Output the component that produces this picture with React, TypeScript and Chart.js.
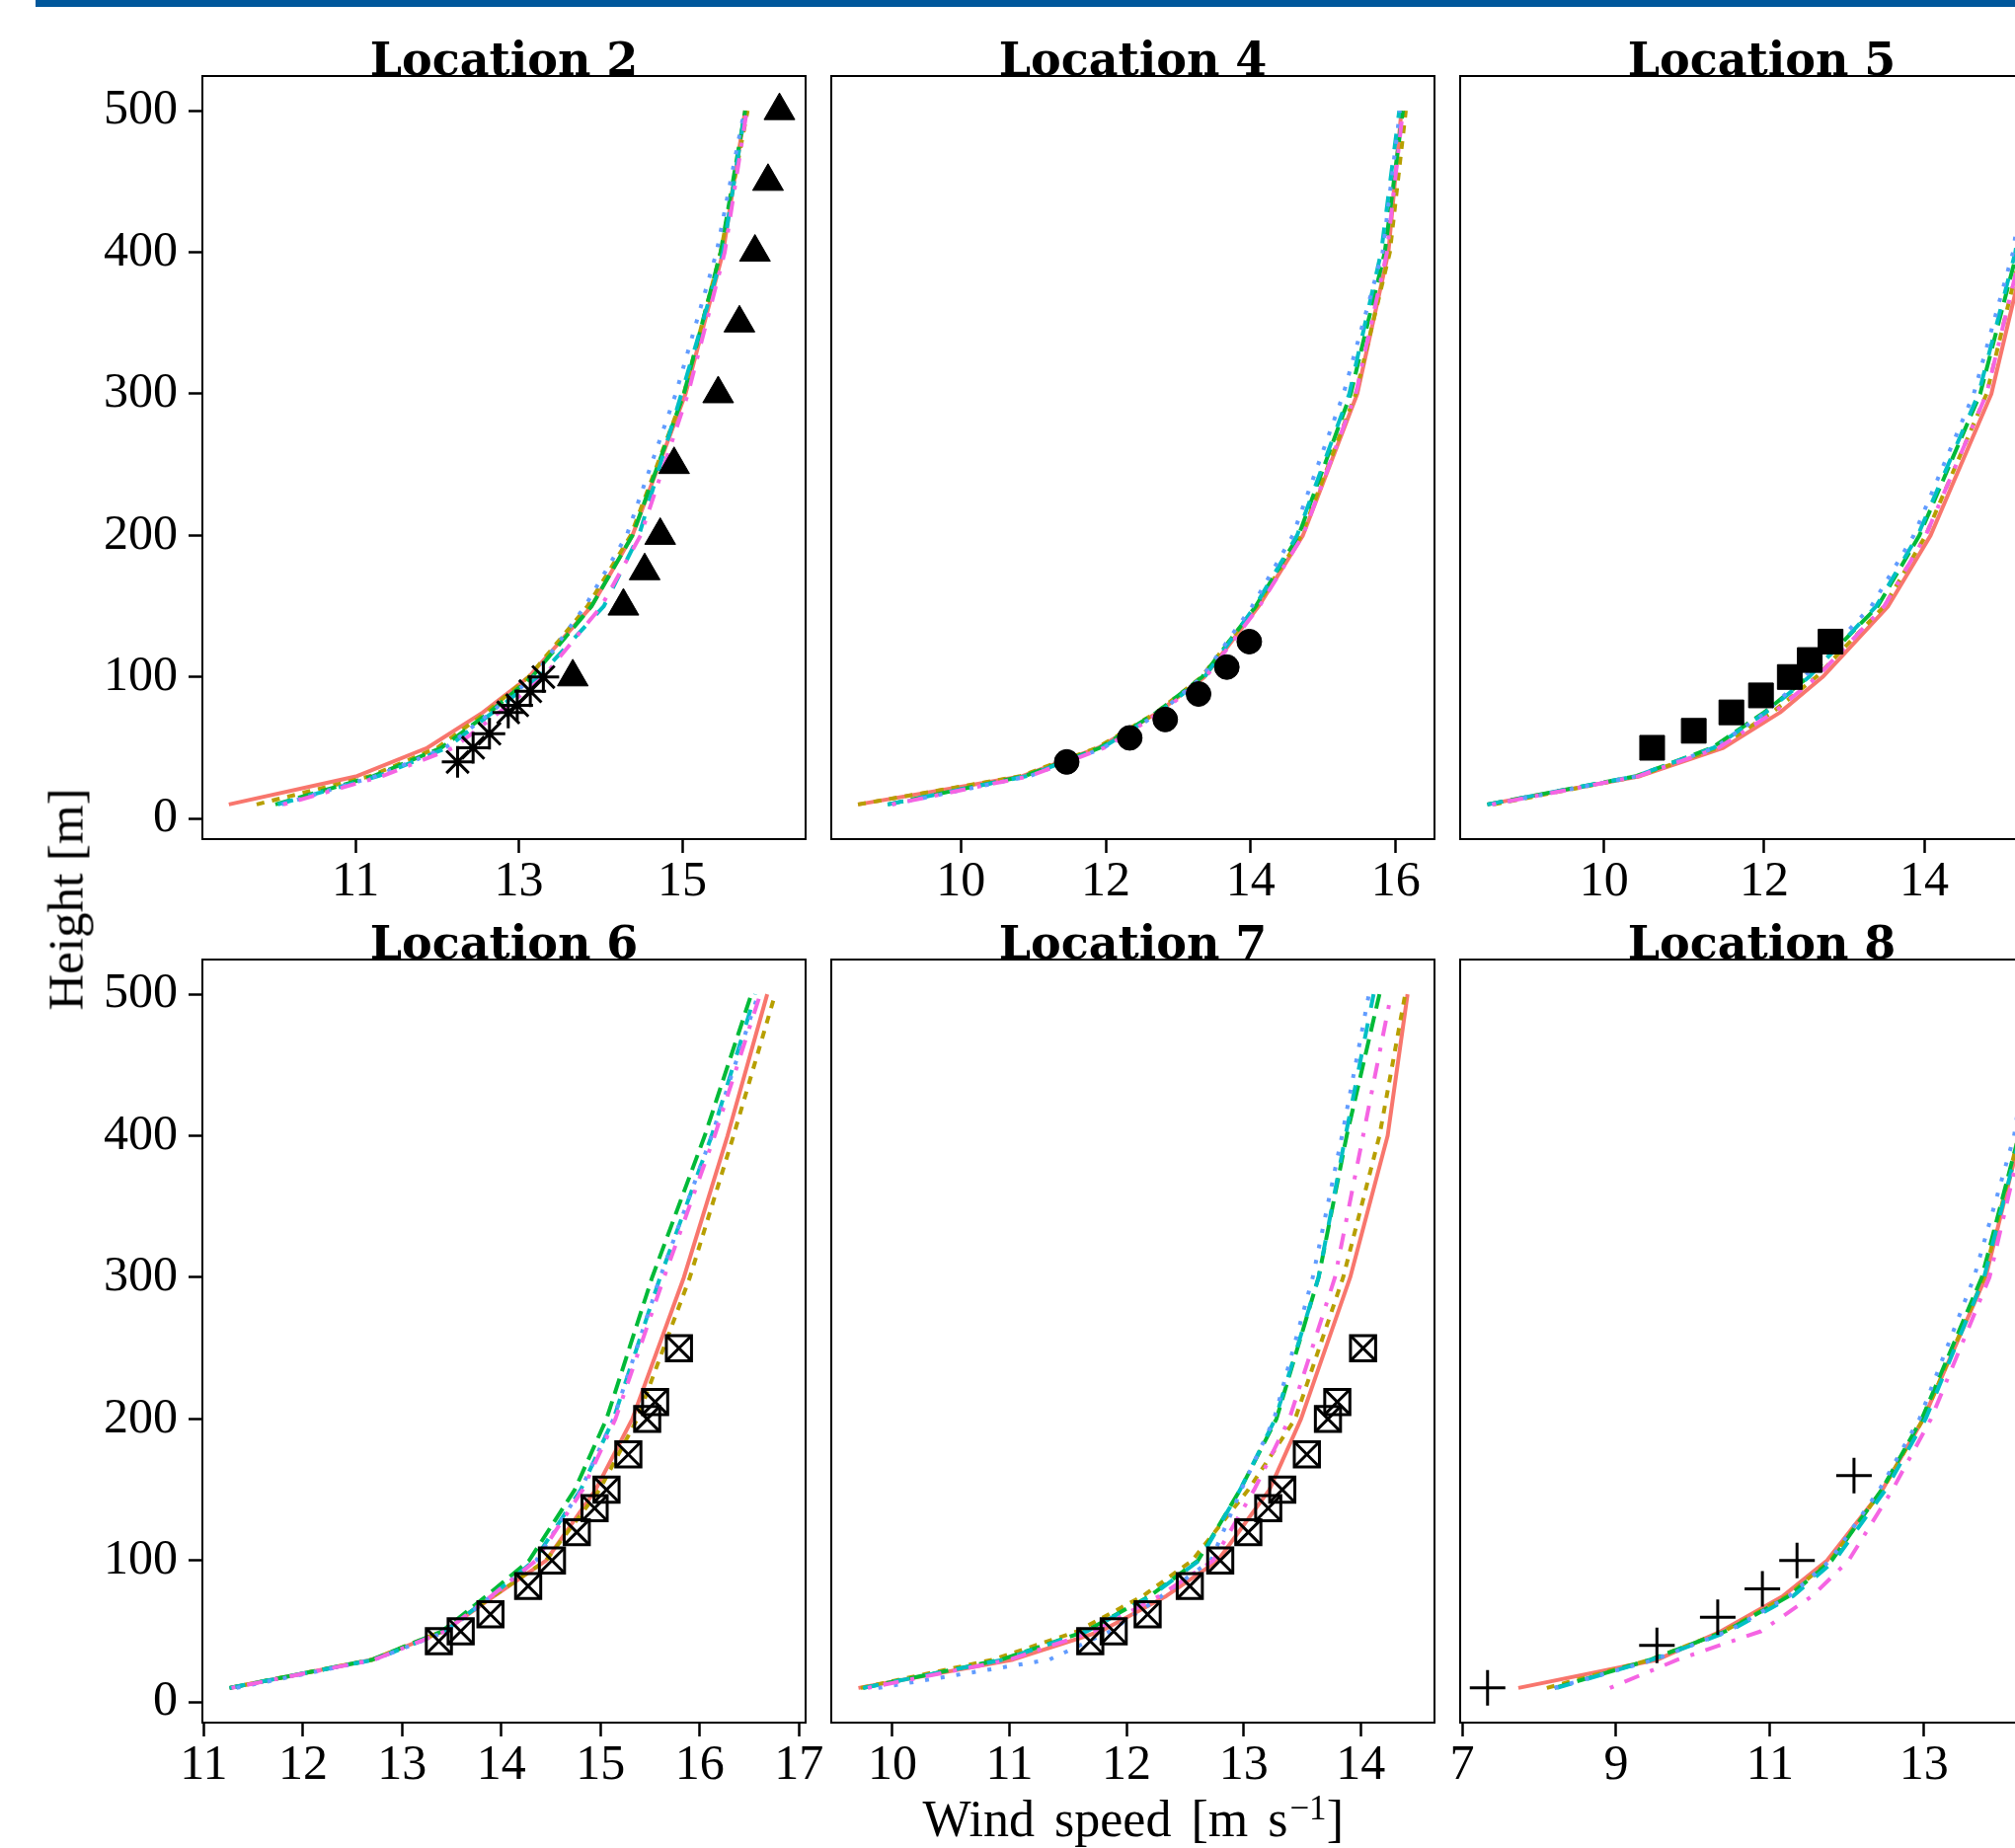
import React, { useEffect, useRef } from "react";
import { Chart, registerables } from "chart.js";

Chart.register(...registerables);

// ---------- data ----------
const HEIGHTS = [10, 30, 50, 75, 100, 150, 200, 300, 400, 500];
const Y_TICKS = [0, 100, 200, 300, 400, 500];

// Location 2
const loc2Run1 = [9.45, 11.02, 11.88, 12.56, 13.12, 13.89, 14.39, 15.04, 15.5, 15.77];
const loc2Run2 = [9.79, 11.18, 12.0, 12.6, 13.12, 13.84, 14.37, 15.02, 15.47, 15.8];
const loc2Run3 = [10.02, 11.22, 12.05, 12.64, 13.16, 13.89, 14.39, 15.02, 15.47, 15.77];
const loc2Run4 = [10.05, 11.28, 12.12, 12.68, 13.24, 14.04, 14.47, 14.99, 15.5, 15.77];
const loc2Run5 = [10.1, 11.25, 12.1, 12.66, 13.18, 13.81, 14.32, 14.92, 15.42, 15.76];
const loc2Run6 = [10.12, 11.33, 12.2, 12.76, 13.3, 14.01, 14.49, 15.07, 15.52, 15.79];
const loc2TriHeights = [100, 150, 175, 200, 250, 300, 350, 400, 450, 500];
const loc2TriSpeeds = [13.66, 14.28, 14.54, 14.73, 14.9, 15.44, 15.7, 15.89, 16.05, 16.19];
const loc2StarHeights = [40, 50, 60, 75, 80, 90, 100];
const loc2StarSpeeds = [12.25, 12.44, 12.64, 12.87, 12.98, 13.14, 13.3];
const loc2Ticks = [11, 13, 15];

// Location 4
const loc4Run1 = [8.58, 10.85, 11.9, 12.72, 13.36, 14.11, 14.72, 15.47, 15.9, 16.08];
const loc4Run2 = [8.58, 10.82, 11.88, 12.7, 13.32, 14.08, 14.7, 15.45, 15.92, 16.14];
const loc4Run3 = [8.99, 10.88, 11.92, 12.7, 13.33, 14.07, 14.66, 15.38, 15.85, 16.1];
const loc4Run4 = [8.99, 10.9, 11.95, 12.74, 13.36, 14.06, 14.64, 15.36, 15.8, 16.05];
const loc4Run5 = [9.05, 10.95, 11.97, 12.75, 13.33, 14.02, 14.58, 15.28, 15.82, 16.06];
const loc4Run6 = [9.05, 10.95, 11.98, 12.76, 13.38, 14.12, 14.72, 15.45, 15.88, 16.1];
const loc4ObsHeights = [40, 57, 70, 88, 107, 125];
const loc4ObsSpeeds = [11.46, 12.33, 12.82, 13.28, 13.67, 13.98];
const loc4Ticks = [10, 12, 14, 16];

// Location 5
const loc5Run1 = [8.54, 10.45, 11.49, 12.2, 12.73, 13.55, 14.08, 14.84, 15.26, 15.44];
const loc5Run2 = [8.62, 10.43, 11.42, 12.1, 12.65, 13.5, 14.02, 14.78, 15.21, 15.42];
const loc5Run3 = [8.54, 10.4, 11.35, 12.0, 12.55, 13.42, 13.94, 14.7, 15.16, 15.39];
const loc5Run4 = [8.54, 10.4, 11.37, 12.02, 12.56, 13.4, 13.92, 14.68, 15.14, 15.38];
const loc5Run5 = [8.6, 10.42, 11.38, 12.02, 12.5, 13.34, 13.87, 14.62, 15.11, 15.37];
const loc5Run6 = [8.6, 10.43, 11.43, 12.12, 12.66, 13.5, 14.02, 14.78, 15.21, 15.42];
const loc5ObsHeights = [50, 62, 75, 87, 100, 112, 125];
const loc5ObsSpeeds = [10.6, 11.12, 11.59, 11.96, 12.32, 12.57, 12.83];
const loc5Ticks = [10, 12, 14];

// Location 6
const loc6Run1 = [11.26, 12.7, 13.42, 13.93, 14.45, 14.95, 15.32, 15.84, 16.28, 16.68];
const loc6Run2 = [11.26, 12.7, 13.4, 13.92, 14.45, 14.99, 15.37, 15.9, 16.34, 16.76];
const loc6Run3 = [11.26, 12.7, 13.4, 13.85, 14.28, 14.74, 15.06, 15.52, 16.05, 16.52];
const loc6Run4 = [11.26, 12.72, 13.43, 13.9, 14.33, 14.8, 15.13, 15.6, 16.12, 16.56];
const loc6Run5 = [11.33, 12.72, 13.45, 13.9, 14.35, 14.8, 15.13, 15.6, 16.12, 16.59];
const loc6Run6 = [11.28, 12.72, 13.43, 13.9, 14.35, 14.82, 15.15, 15.64, 16.15, 16.61];
const mastHeights = [43, 50, 62, 82, 100, 120, 137, 150, 175, 200, 212, 250];
const loc6ObsSpeeds = [13.37, 13.59, 13.89, 14.27, 14.51, 14.76, 14.94, 15.06, 15.28, 15.47, 15.55, 15.79];
const loc6Ticks = [11, 12, 13, 14, 15, 16, 17];

// Location 7
const loc7Run1 = [9.71, 11.03, 11.78, 12.34, 12.78, 13.22, 13.49, 13.91, 14.23, 14.4];
const loc7Run2 = [9.73, 10.86, 11.58, 12.14, 12.56, 13.04, 13.44, 13.85, 14.16, 14.38];
const loc7Run3 = [9.75, 10.93, 11.65, 12.2, 12.61, 12.97, 13.28, 13.64, 13.88, 14.16];
const loc7Run4 = [9.75, 10.95, 11.66, 12.21, 12.62, 12.97, 13.27, 13.64, 13.87, 14.11];
const loc7Run5 = [9.88, 11.34, 11.86, 12.3, 12.72, 12.98, 13.26, 13.59, 13.84, 14.07];
const loc7Run6 = [9.79, 11.0, 11.72, 12.28, 12.74, 13.09, 13.39, 13.78, 14.02, 14.26];
const loc7ObsSpeeds = [11.69, 11.89, 12.18, 12.54, 12.8, 13.04, 13.21, 13.33, 13.54, 13.72, 13.8, 14.02];
const loc7Ticks = [10, 11, 12, 13, 14];

// Location 8
const loc8Run1 = [7.73, 9.54, 10.36, 11.17, 11.74, 12.46, 12.99, 13.8, 14.25, 14.47];
const loc8Run2 = [8.1, 9.45, 10.4, 11.22, 11.78, 12.46, 12.99, 13.78, 14.23, 14.45];
const loc8Run3 = [8.2, 9.45, 10.42, 11.25, 11.8, 12.45, 12.97, 13.75, 14.23, 14.45];
const loc8Run4 = [8.23, 9.47, 10.47, 11.3, 11.84, 12.5, 13.02, 13.78, 14.25, 14.47];
const loc8Run5 = [8.2, 9.5, 10.45, 11.25, 11.78, 12.42, 12.94, 13.65, 14.17, 14.44];
const loc8Run6 = [8.92, 9.8, 10.88, 11.55, 12.02, 12.59, 13.09, 13.85, 14.28, 14.47];
const loc8ObsHeights = [10, 40, 60, 80, 100, 160];
const loc8ObsSpeeds = [7.33, 9.53, 10.32, 10.9, 11.35, 12.09];
const loc8Ticks = [7, 9, 11, 13];

// ---------- styles ----------
const RUN_COLORS = ["#F8766D", "#B79F00", "#00BA38", "#00BFC4", "#619CFF", "#F564E3"];
const LW = 4;
const RUN_DASHES = [
  [],
  [2 * LW, 2 * LW],
  [4 * LW, 2 * LW],
  [4 * LW, 4 * LW],
  [1 * LW, 3 * LW],
  [1 * LW, 3 * LW, 4 * LW, 3 * LW],
];

const COL_LEFT = [205, 842, 1479];
const ROW_TOP = [77, 972];
const PANEL_W = 611;
const PANEL_H = 773;
const PAD_T = 60;
const PAD_B = 80;
const PAD_R = 40;
const TICK_FONT = { family: "Liberation Serif", size: 50, lineHeight: 1.2 };

type Obs = {
  heights: number[];
  speeds: number[];
  style: string;
  radius: number;
  fill: string;
  width: number;
};

type PanelCfg = {
  title: string;
  col: number;
  row: number;
  xMin: number;
  xMax: number;
  xTicks: number[];
  runs: number[][];
  obs: Obs[];
};

const PANELS: PanelCfg[] = [
  {
    title: "Location 2", col: 0, row: 0, xMin: 9.126, xMax: 16.51, xTicks: loc2Ticks,
    runs: [loc2Run1, loc2Run2, loc2Run3, loc2Run4, loc2Run5, loc2Run6],
    obs: [
      { heights: loc2TriHeights, speeds: loc2TriSpeeds, style: "triangle", radius: 18, fill: "#000", width: 1 },
      { heights: loc2StarHeights, speeds: loc2StarSpeeds, style: "star", radius: 16, fill: "#000", width: 3 },
    ],
  },
  {
    title: "Location 4", col: 1, row: 0, xMin: 8.211, xMax: 16.536, xTicks: loc4Ticks,
    runs: [loc4Run1, loc4Run2, loc4Run3, loc4Run4, loc4Run5, loc4Run6],
    obs: [{ heights: loc4ObsHeights, speeds: loc4ObsSpeeds, style: "circle", radius: 12.5, fill: "#000", width: 1 }],
  },
  {
    title: "Location 5", col: 2, row: 0, xMin: 8.2, xMax: 15.74, xTicks: loc5Ticks,
    runs: [loc5Run1, loc5Run2, loc5Run3, loc5Run4, loc5Run5, loc5Run6],
    obs: [{ heights: loc5ObsHeights, speeds: loc5ObsSpeeds, style: "rect", radius: 17.7, fill: "#000", width: 1 }],
  },
  {
    title: "Location 6", col: 0, row: 1, xMin: 10.986, xMax: 17.067, xTicks: loc6Ticks,
    runs: [loc6Run1, loc6Run2, loc6Run3, loc6Run4, loc6Run5, loc6Run6],
    obs: [
      { heights: mastHeights, speeds: loc6ObsSpeeds, style: "rect", radius: 18, fill: "rgba(0,0,0,0)", width: 3 },
      { heights: mastHeights, speeds: loc6ObsSpeeds, style: "crossRot", radius: 18, fill: "#000", width: 3 },
    ],
  },
  {
    title: "Location 7", col: 1, row: 1, xMin: 9.478, xMax: 14.63, xTicks: loc7Ticks,
    runs: [loc7Run1, loc7Run2, loc7Run3, loc7Run4, loc7Run5, loc7Run6],
    obs: [
      { heights: mastHeights, speeds: loc7ObsSpeeds, style: "rect", radius: 18, fill: "rgba(0,0,0,0)", width: 3 },
      { heights: mastHeights, speeds: loc7ObsSpeeds, style: "crossRot", radius: 18, fill: "#000", width: 3 },
    ],
  },
  {
    title: "Location 8", col: 2, row: 1, xMin: 6.974, xMax: 14.81, xTicks: loc8Ticks,
    runs: [loc8Run1, loc8Run2, loc8Run3, loc8Run4, loc8Run5, loc8Run6],
    obs: [{ heights: loc8ObsHeights, speeds: loc8ObsSpeeds, style: "cross", radius: 18, fill: "#000", width: 3 }],
  },
];

const panelDecor = {
  id: "panelDecor",
  afterDraw(chart: any, _args: any, opts: any) {
    const { ctx, chartArea } = chart;
    const { left, right, top, bottom } = chartArea;
    ctx.save();
    ctx.fillStyle = "#000";
    ctx.font = 'bold 46px "DejaVu Serif"';
    ctx.textAlign = "center";
    ctx.textBaseline = "alphabetic";
    ctx.fillText(opts.title, (left + right) / 2, top - 1);
    ctx.lineWidth = 2;
    ctx.strokeStyle = "#000";
    ctx.strokeRect(left, top, right - left, bottom - top);
    ctx.restore();
  },
};

function zeroPad(s: any) {
  s.paddingLeft = 0;
  s.paddingRight = 0;
  s.paddingTop = 0;
  s.paddingBottom = 0;
}

function Panel({ cfg }: { cfg: PanelCfg }) {
  const ref = useRef<HTMLCanvasElement>(null);
  const padL = cfg.col === 0 ? 200 : 40;
  const left = COL_LEFT[cfg.col] - padL;
  const top = ROW_TOP[cfg.row] - PAD_T;
  const w = padL + PANEL_W + PAD_R;
  const h = PAD_T + PANEL_H + PAD_B;

  useEffect(() => {
    if (!ref.current) return;
    const datasets: any[] = [];
    cfg.obs.forEach((o) => {
      datasets.push({
        data: o.heights.map((hh, i) => ({ x: o.speeds[i], y: hh })),
        showLine: false,
        pointStyle: o.style,
        pointRadius: o.radius,
        pointBackgroundColor: o.fill,
        pointBorderColor: "#000",
        pointBorderWidth: o.width,
        order: 0,
      });
    });
    cfg.runs.forEach((run, k) => {
      datasets.push({
        data: HEIGHTS.map((hh, i) => ({ x: run[i], y: hh })),
        showLine: true,
        borderColor: RUN_COLORS[k],
        backgroundColor: RUN_COLORS[k],
        borderWidth: LW,
        borderDash: RUN_DASHES[k],
        borderCapStyle: "butt",
        borderJoinStyle: "round",
        pointRadius: 0,
        tension: 0,
        fill: false,
        order: 6 - k,
      });
    });
    const showY = cfg.col === 0;
    const chart = new Chart(ref.current, {
      type: "scatter",
      data: { datasets },
      options: {
        responsive: false,
        animation: false,
        devicePixelRatio: 1,
        events: [],
        layout: { padding: { left: 0, right: PAD_R, top: PAD_T, bottom: 0 } },
        plugins: {
          legend: { display: false },
          tooltip: { enabled: false },
          title: { display: false },
          panelDecor: { title: cfg.title },
        } as any,
        scales: {
          x: {
            type: "linear",
            position: "bottom",
            min: cfg.xMin,
            max: cfg.xMax,
            afterBuildTicks: (s: any) => {
              s.ticks = cfg.xTicks.map((v) => ({ value: v }));
            },
            afterFit: (s: any) => {
              s.height = PAD_B;
              zeroPad(s);
            },
            grid: {
              display: true,
              drawOnChartArea: false,
              drawTicks: true,
              tickLength: 14,
              tickWidth: 2.5,
              tickColor: "#000",
              color: "#000",
            },
            border: { display: false },
            ticks: {
              font: TICK_FONT,
              color: "#000",
              padding: 0,
              maxRotation: 0,
              autoSkip: false,
              callback: (v: any) => String(v),
            },
          },
          y: {
            type: "linear",
            position: "left",
            min: -14.5,
            max: 524.5,
            afterBuildTicks: (s: any) => {
              s.ticks = Y_TICKS.map((v) => ({ value: v }));
            },
            afterFit: (s: any) => {
              s.width = padL;
              zeroPad(s);
            },
            grid: {
              display: showY,
              drawOnChartArea: false,
              drawTicks: true,
              tickLength: 14,
              tickWidth: 2.5,
              tickColor: "#000",
              color: "#000",
            },
            border: { display: false },
            ticks: {
              display: showY,
              font: TICK_FONT,
              color: "#000",
              padding: 11,
              autoSkip: false,
              callback: (v: any) => String(v),
            },
          },
        },
      } as any,
      plugins: [panelDecor],
    });
    return () => chart.destroy();
  }, []);

  return (
    <canvas
      ref={ref}
      width={w}
      height={h}
      style={{ position: "absolute", left, top, width: w, height: h }}
    />
  );
}

export default function App() {
  useEffect(() => {
    document.body.style.margin = "0";
    document.body.style.overflow = "hidden";
  }, []);
  return (
    <div
      style={{
        position: "absolute",
        left: 0,
        top: 0,
        width: 2041,
        height: 1872,
        overflow: "hidden",
        background: "#fff",
      }}
    >
      <div style={{ position: "absolute", left: 36, top: 0, width: 2005, height: 7, background: "#00579b" }} />
      {PANELS.map((p) => (
        <Panel key={p.title} cfg={p} />
      ))}
      <div
        style={{
          position: "absolute",
          left: 66.6,
          top: 911,
          transform: "translate(-50%, -50%) rotate(-90deg)",
          font: '51px "Liberation Serif"',
          lineHeight: 1,
          whiteSpace: "nowrap",
          color: "#000",
        }}
      >
        Height [m]
      </div>
      <div
        style={{
          position: "absolute",
          left: 1147.75,
          top: 1817,
          transform: "translateX(-50%)",
          font: '52px "Liberation Serif"',
          lineHeight: 1,
          whiteSpace: "nowrap",
          wordSpacing: "7px",
          color: "#000",
        }}
      >
        Wind speed [m s
        <span style={{ fontSize: 35, position: "relative", top: -17, marginLeft: 2 }}>−1</span>]
      </div>
    </div>
  );
}
